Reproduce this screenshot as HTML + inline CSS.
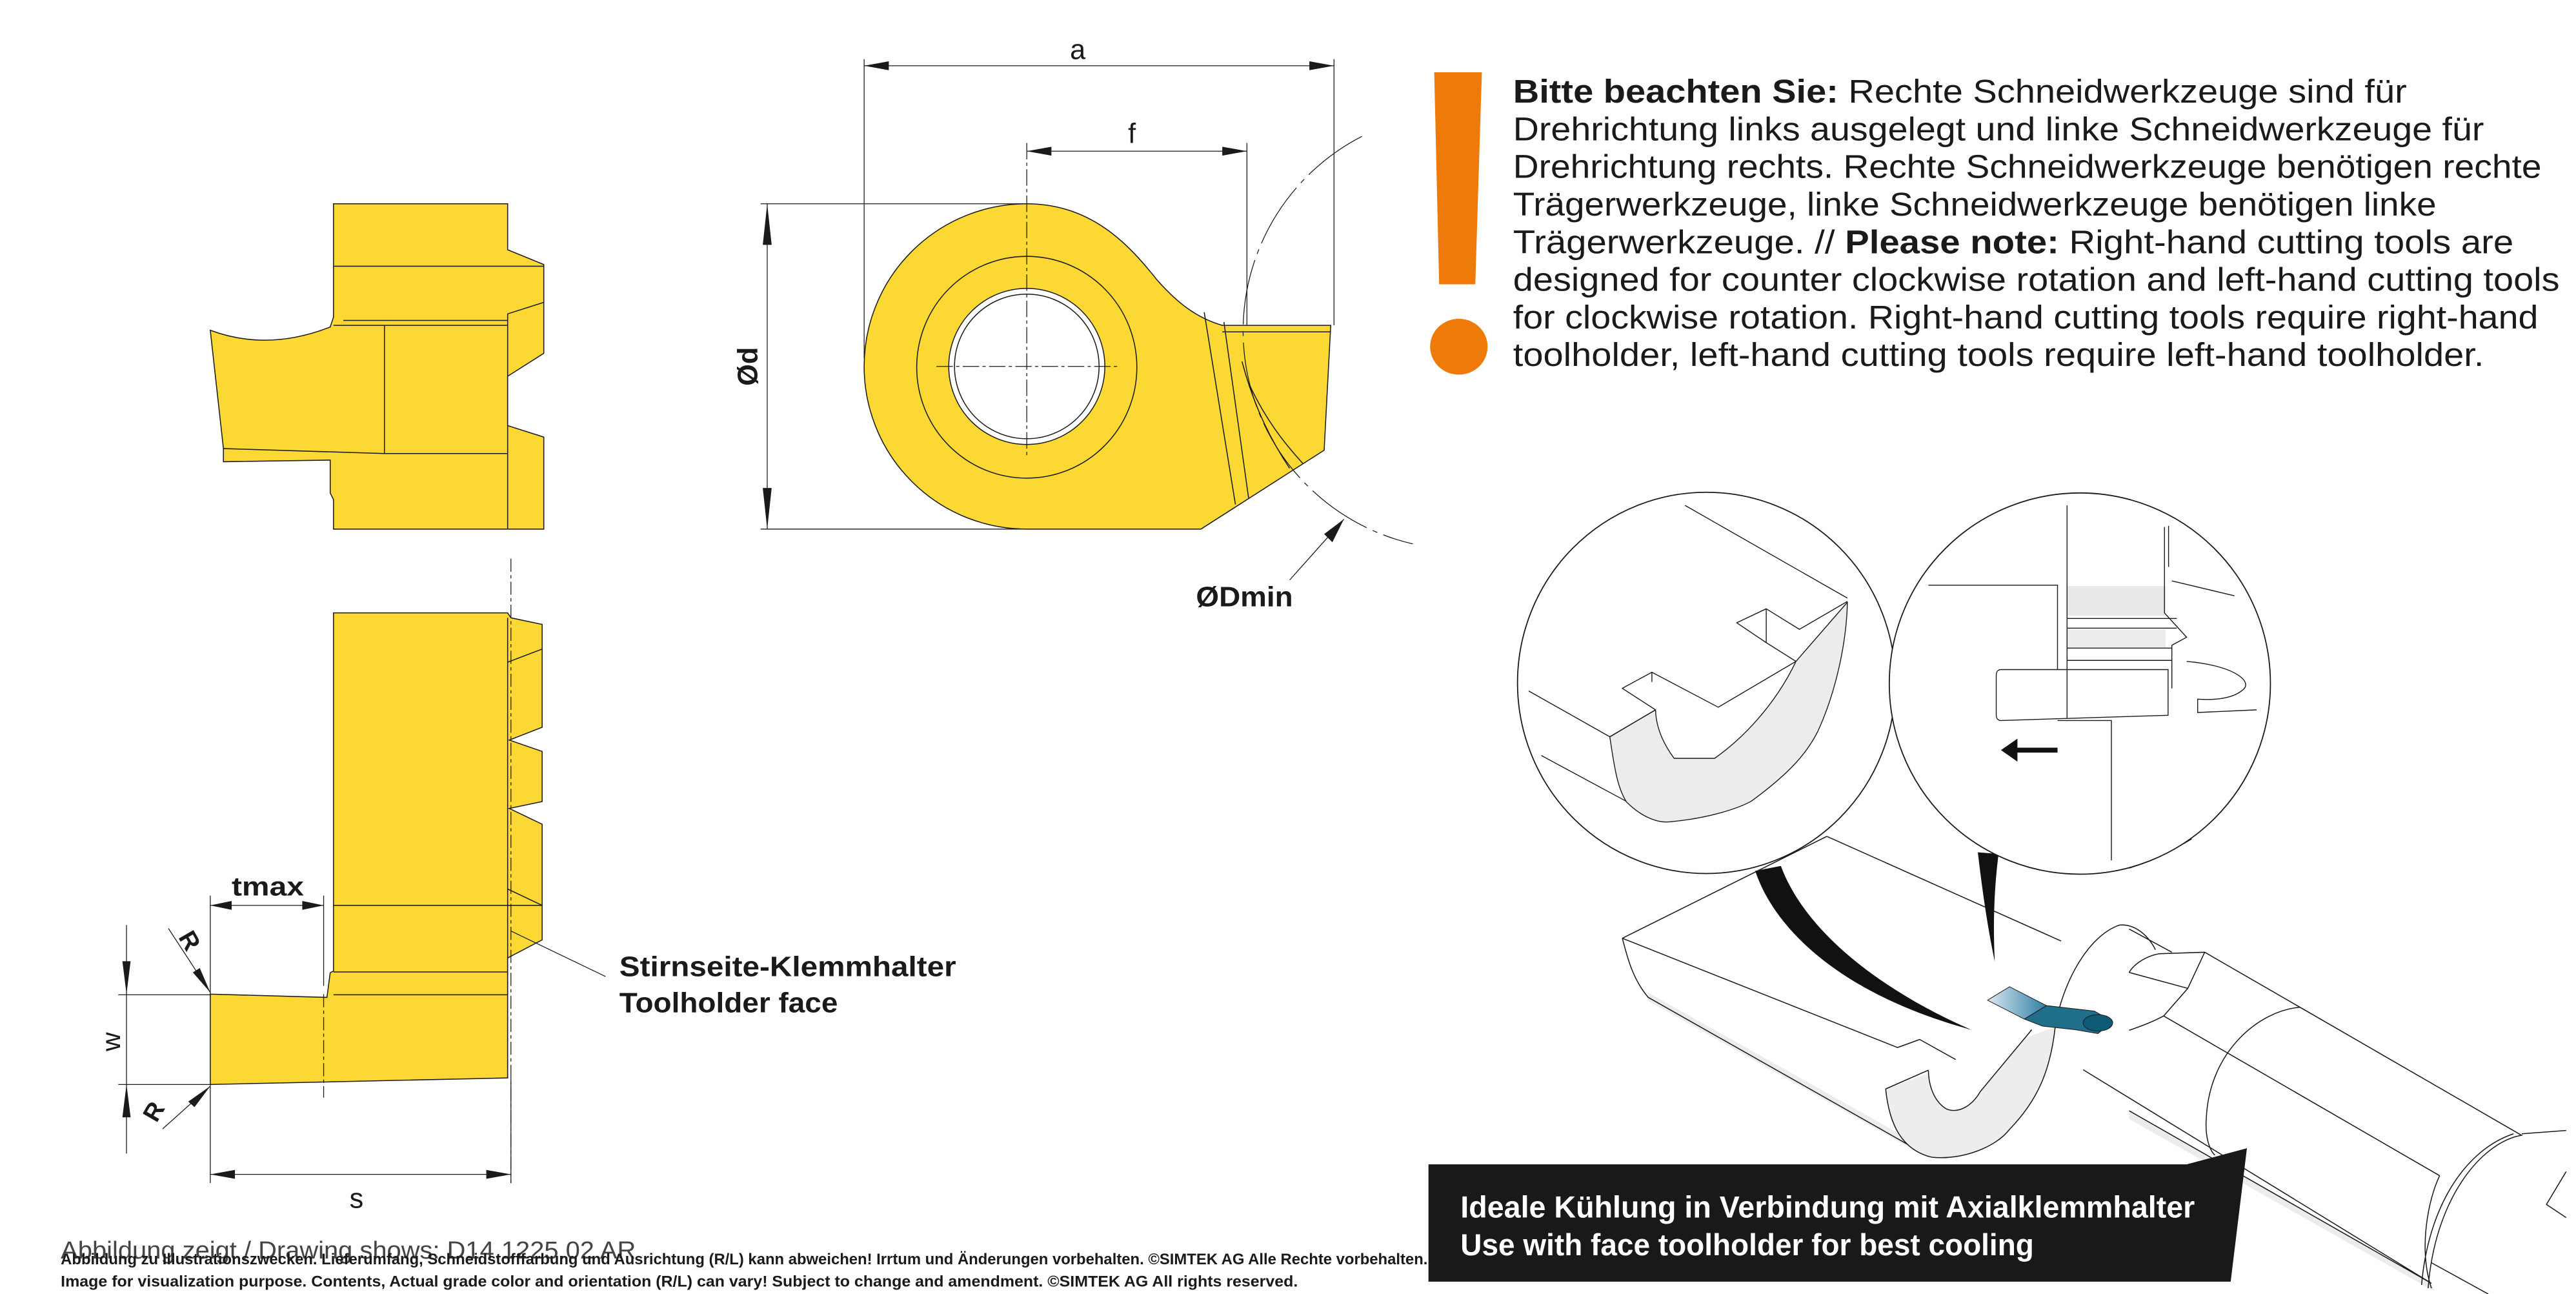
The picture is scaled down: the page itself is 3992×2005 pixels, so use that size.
<!DOCTYPE html>
<html><head><meta charset="utf-8"><style>
html,body{margin:0;padding:0;background:#fff;}
svg{display:block;}
text{font-family:"Liberation Sans",sans-serif;}
</style></head><body>
<svg width="3992" height="2005" viewBox="0 0 1568 787.5" preserveAspectRatio="none" xmlns="http://www.w3.org/2000/svg">
<defs>
<linearGradient id="bl" x1="0" y1="0" x2="1" y2="0"><stop offset="0" stop-color="#dbe8f2"/><stop offset="1" stop-color="#2f7fa3"/></linearGradient>
</defs>
<rect width="1568" height="787.5" fill="#fff"/>

<!-- ===== top-left side view ===== -->
<g stroke="#1a1a1a" stroke-width="0.6" fill="none">
<path d="M203,124 L309,124 L309,152 L331,161 L331,215 L309,229 L309,259 L331,266 L331,322 L203,322 L203,304 L201,300 L201,280 L136,281 L136,273 L128,201 Q163,214 201,199 L203,193 Z" fill="#FBD834"/>
<path d="M309,191 L331,184 M309,191 L309,322 M203,162 L331,162 M209,195 L309,195 M203,198 L309,198 M234,198 L234,276 M136,273 L234,276 L309,276"/>
</g>

<!-- ===== top front view ===== -->
<g stroke="#1a1a1a" stroke-width="0.6">
<path d="M625,322 A99,99 0 0 1 625,124 C665,124 688,150 704,170 C718,186 730,194 744,198 L810,198 L806,274 L731,322 Z" fill="#FBD834"/>
<ellipse cx="625" cy="223.5" rx="67" ry="67.5" fill="none"/>
<circle cx="625" cy="223" r="47.5" fill="#fff"/>
<circle cx="625" cy="223" r="44" fill="none"/>
<path d="M733,190 L752,307 M745,196 L760,303 M760,233 C770,255 782,270 793,282 M756,220 C764,250 775,270 785,285 M744,202 L810,202" fill="none"/>
</g>
<g stroke="#1a1a1a" stroke-width="0.5" fill="none" stroke-dasharray="10 2 2 2">
<path d="M625,87 L625,278 M570,223 L680,223"/>
</g>
<g stroke="#1a1a1a" stroke-width="0.5" fill="none">
<path d="M526,36 L526,218 M812,36 L812,198 M759,87 L759,198 M463,124 L625,124 M463,322 L625,322 M526,40 L812,40 M625,92 L759,92 M467,124 L467,322"/>
<path d="M829,83 A133,133 0 0 0 860,331" stroke-dasharray="40 4 3 4"/>
<path d="M785,353 L818,316"/>
</g>
<g fill="#1a1a1a">
<polygon points="526,40 541,37.3 541,42.7"/><polygon points="812,40 797,37.3 797,42.7"/>
<polygon points="625,92 640,89.3 640,94.7"/><polygon points="759,92 744,89.3 744,94.7"/>
<polygon points="467,124 464.3,149 469.7,149"/><polygon points="467,322 464.3,297 469.7,297"/>
<polygon points="818,316 806,325 811,330"/>
</g>
<text x="656" y="36" font-size="17" text-anchor="middle" fill="#1a1a1a">a</text>
<text x="689" y="87" font-size="17" text-anchor="middle" fill="#1a1a1a">f</text>
<text transform="translate(461,223) rotate(-90)" font-size="17" font-weight="bold" text-anchor="middle" fill="#1a1a1a">Ød</text>
<text x="728" y="369" font-size="17" textLength="59" lengthAdjust="spacingAndGlyphs" fill="#1a1a1a" font-weight="bold">ØDmin</text>

<!-- ===== bottom-left view ===== -->
<g stroke="#1a1a1a" stroke-width="0.6">
<path d="M203,373 L309,373 L311,376 L330,380 L330,442.6 L310,450.4 L330,457.3 L330,487.8 L310,492 L330,501.6 L330,572 L309,583 L309,656 L128,660 L128,605 L199,607 L201,592 L203,591 Z" fill="#FBD834"/>
<path d="M309,376 L309,656 M330,395 L309,403 M309,541 L330,551 M203,551 L330,551 M203,591.5 L309,591.5 M203,605.4 L309,605.4" fill="none"/>
</g>
<g stroke="#1a1a1a" stroke-width="0.5" fill="none">
<path d="M311,340 L311,720 M197,605 L197,668" stroke-dasharray="8 2 2 2"/>
<path d="M128,545 L128,605 M197,545 L197,600 M128,551 L197,551 M77,563 L77,702 M72,605.4 L128,605.4 M72,660 L128,660 M128,660 L128,720 M311,656 L311,720 M128,714.7 L311,714.7 M102.5,565 L128,604 M99,687 L128,661 M311,566.6 L368.6,594.3"/>
</g>
<g fill="#1a1a1a">
<polygon points="128,551 141,548.3 141,553.7"/><polygon points="197,551 184,548.3 184,553.7"/>
<polygon points="128,714.7 143,712 143,717.4"/><polygon points="311,714.7 296,712 296,717.4"/>
<polygon points="77,605 74.5,585 79.5,585"/><polygon points="77,660 74.5,680 79.5,680"/>
<polygon points="128,604 117.4,591.8 121.6,589.1"/><polygon points="128,661 118.4,673.8 114.6,670.4"/>
</g>
<text x="163" y="545" font-size="16" text-anchor="middle" fill="#1a1a1a" font-weight="bold" textLength="44" lengthAdjust="spacingAndGlyphs">tmax</text>
<text x="217" y="735" font-size="17" text-anchor="middle" fill="#1a1a1a">s</text>
<text transform="translate(73,634) rotate(-90)" font-size="16" text-anchor="middle" fill="#1a1a1a">w</text>
<text transform="translate(111,575) rotate(60)" font-size="15" text-anchor="middle" fill="#1a1a1a" font-weight="bold">R</text>
<text transform="translate(98,679) rotate(-60)" font-size="15" text-anchor="middle" fill="#1a1a1a" font-weight="bold">R</text>
<text x="377" y="594" font-size="17" font-weight="bold" fill="#1a1a1a" textLength="205" lengthAdjust="spacingAndGlyphs">Stirnseite-Klemmhalter</text>
<text x="377" y="616" font-size="17" font-weight="bold" fill="#1a1a1a" textLength="133" lengthAdjust="spacingAndGlyphs">Toolholder face</text>

<!-- ===== exclamation + text ===== -->
<polygon points="873,44 902,44 898,173 876,173" fill="#EE7A0A"/>
<ellipse cx="888" cy="211" rx="17.5" ry="17" fill="#EE7A0A"/>
<g font-size="20" fill="#1a1a1a">
<text x="921" y="62.5" textLength="544" lengthAdjust="spacingAndGlyphs"><tspan font-weight="bold">Bitte beachten Sie:</tspan> Rechte Schneidwerkzeuge sind für</text>
<text x="921" y="85.4" textLength="591" lengthAdjust="spacingAndGlyphs">Drehrichtung links ausgelegt und linke Schneidwerkzeuge für</text>
<text x="921" y="108.3" textLength="626" lengthAdjust="spacingAndGlyphs">Drehrichtung rechts. Rechte Schneidwerkzeuge benötigen rechte</text>
<text x="921" y="131.2" textLength="562" lengthAdjust="spacingAndGlyphs">Trägerwerkzeuge, linke Schneidwerkzeuge benötigen linke</text>
<text x="921" y="154.1" textLength="609" lengthAdjust="spacingAndGlyphs">Trägerwerkzeuge. // <tspan font-weight="bold">Please note:</tspan> Right-hand cutting tools are</text>
<text x="921" y="177" textLength="637" lengthAdjust="spacingAndGlyphs">designed for counter clockwise rotation and left-hand cutting tools</text>
<text x="921" y="199.9" textLength="624" lengthAdjust="spacingAndGlyphs">for clockwise rotation. Right-hand cutting tools require right-hand</text>
<text x="921" y="222.8" textLength="591" lengthAdjust="spacingAndGlyphs">toolholder, left-hand cutting tools require left-hand toolholder.</text>
</g>

<!-- ===== right illustration ===== -->
<g stroke="#1a1a1a" stroke-width="0.6" fill="none" stroke-linejoin="round">
<!-- gray strips -->
<polygon points="1003,609 1174,705 1174,700 1003,604" fill="#ececec" stroke="none"/>
<polygon points="1296,676 1480,781 1482,786 1296,681" fill="#ececec" stroke="none"/>
<!-- bar -->
<path d="M987.5,571 L1112,509 M1112,509 L1254.6,572.7 M987.5,571 L1155,637.5 L1168.5,632.6 L1200.8,650.6 M1200.8,650.6 L1236.7,626.7 M987.5,571 C990,580 993,595 1003.3,607 L1173.8,703.6"/>
<path d="M1147.8,662.7 C1150,685 1158,700 1176,704.3 C1195,706 1215,698 1223.2,687.3 C1240,670 1248,652 1251,625" fill="#ededed"/>
<path d="M1173.8,651.3 C1174,662 1178,671 1185,675 C1193,678 1201,672 1205.3,664.4 L1236.7,626.7" fill="#fff"/>
<path d="M1147.8,662.7 L1173.8,651.3"/>
<!-- holder -->
<path d="M1251,625 C1255,600 1270,570 1290,563 C1300,562 1308,570 1312,578"/>
<path d="M1296,591.8 L1331.7,601.5 L1342,579.5 L1314.4,580.4 C1305,582 1298,588 1296,591.8 M1342,579.5 L1534.5,690.7 M1296,565.4 L1322,579.5 M1317,618.3 L1485,715.5 M1296,627 C1305,624 1312,621 1317,618.3 L1331.7,601.5"/>
<path d="M1400,613 C1375,615 1345,640 1343,680 C1342,692 1345,700 1348.2,703"/>
<path d="M1268,651 L1480,781 M1296,676 L1480,781"/>
<path d="M1535.4,690.8 C1510,695 1482,730 1478,784 M1530,690 C1500,700 1478,735 1474,782 M1485,715.5 C1478,730 1472,760 1480,784 M1535,690 L1562,688 M1480,768.5 L1514.6,787.5"/>
<path d="M1562,713 L1550,733 L1562,741"/>
<path d="M1296,528.3 C1310,524 1325,516 1334,510.6"/>
<!-- blue insert -->
<polygon points="1209.8,608.7 1223.2,600.5 1245.7,612 1232.2,620.2" fill="url(#bl)" stroke-width="0.4"/>
<polygon points="1232.2,620.2 1245.7,612 1274.8,615.3 1286,621.8 1277,629 1263.6,626.7 1243.4,624.5" fill="#1f6f8b" stroke-width="0.4"/>
<ellipse cx="1277" cy="622.5" rx="9" ry="5" fill="#0e5a74" stroke-width="0.4"/>
</g>
<!-- tails -->
<path d="M1068.4,530 C1080,565 1120,605 1199.9,626.7 C1150,605 1100,570 1084,527 Z" fill="#111"/>
<path d="M1203.9,518.7 C1207,545 1210,565 1214.2,585.2 C1213,560 1214,540 1216.5,519.7 Z" fill="#111"/>
<!-- circles -->
<g stroke="#1a1a1a" stroke-width="0.7" fill="#fff">
<ellipse cx="1038.7" cy="415.6" rx="115" ry="116"/>
</g>
<g stroke="#1a1a1a" stroke-width="0.55" fill="none" stroke-linejoin="round">
<path d="M979.9,448.4 C983,470 985,480 990,488 C1000,498 1010,501 1016.7,500.1 C1040,498 1058,492 1066,487.6 C1090,470 1100,458 1106.5,445.1 C1118,420 1124,390 1124.5,366.5 L1093.2,402.5 C1080,430 1060,450 1043.7,461.5 L1019,461.5 C1012,452 1008,442 1007.7,432 Z" fill="#ececec"/>
<path d="M1025.7,307.6 L1124.5,364 M1124.5,366 L1095.3,383 L1075.1,370.5 L1057.1,379 L1075.1,391.1 L1093.2,402.5 M1093.2,402.5 L1045.9,430.4 L1005.5,409.1 L987.5,418.9 L1007.7,432 L979.9,448.4 L930.5,420.5 M938.2,459.8 L989.8,487.6 M1075.1,370.5 L1075.1,391.1 M1005.5,409.1 L1005.5,415"/>
</g>
<g stroke="#1a1a1a" stroke-width="0.7" fill="#fff">
<ellipse cx="1266" cy="416" rx="116" ry="116"/>
</g>
<g stroke="#1a1a1a" stroke-width="0.55" fill="none">
<rect x="1258.2" y="356.7" width="60" height="18" fill="#e8e8e8" stroke="none"/>
<rect x="1258.2" y="383" width="60" height="11" fill="#ececec" stroke="none"/>
<path d="M1258.2,307.6 L1258.2,436.9 M1173.8,356.1 L1252.4,356.1 L1252.4,407.5 M1218,407.5 L1319.7,407.5 L1319.7,435.3 L1218,438.5 C1216,438.5 1215.1,437 1215.1,435 L1215.1,411 C1215.1,409 1216,407.5 1218,407.5 M1252.4,438.5 L1285.2,438.5 L1285.2,523.6 M1258,376.4 L1325,376.4 M1258,382.3 L1325,382.3 M1258,394.4 L1322,394.4 M1258,401.9 L1322,401.9 M1317.5,320.7 L1317.5,373 L1331,387.8 L1322,392.7 L1322,419 M1322,353.5 L1360.1,362.6 M1331,402.5 C1360,405 1372,415 1365,420 C1358,426 1345,426 1337.7,425.5 L1337.7,433.6 L1373.6,432 M1320,320 L1320,345"/>
</g>
<path d="M1252.4,456.5 L1226,456.5" stroke="#111" stroke-width="3"/>
<polygon points="1218,456.5 1228,449.5 1228,463.5" fill="#111"/>

<!-- black caption box -->
<polygon points="869.5,708.6 1331,708.6 1367.7,698.8 1357.8,780 869.5,780" fill="#181918"/>
<text x="889" y="741" font-size="18.5" fill="#fff" font-weight="bold" textLength="447" lengthAdjust="spacingAndGlyphs">Ideale Kühlung in Verbindung mit Axialklemmhalter</text>
<text x="889" y="764" font-size="18.5" fill="#fff" font-weight="bold" textLength="349" lengthAdjust="spacingAndGlyphs">Use with face toolholder for best cooling</text>

<!-- footer -->
<text x="37" y="766" font-size="15" fill="#444" textLength="350" lengthAdjust="spacingAndGlyphs">Abbildung zeigt / Drawing shows: D14.1225.02 AR</text>
<text x="37" y="769.5" font-size="9.5" font-weight="bold" fill="#1a1a1a" textLength="832" lengthAdjust="spacingAndGlyphs">Abbildung zu Illustrationszwecken. Lieferumfang, Schneidstofffarbung und Ausrichtung (R/L) kann abweichen! Irrtum und Änderungen vorbehalten. ©SIMTEK AG Alle Rechte vorbehalten.</text>
<text x="37" y="783" font-size="9.5" font-weight="bold" fill="#1a1a1a" textLength="753" lengthAdjust="spacingAndGlyphs">Image for visualization purpose. Contents, Actual grade color and orientation (R/L) can vary! Subject to change and amendment. ©SIMTEK AG All rights reserved.</text>
</svg>
</body></html>
